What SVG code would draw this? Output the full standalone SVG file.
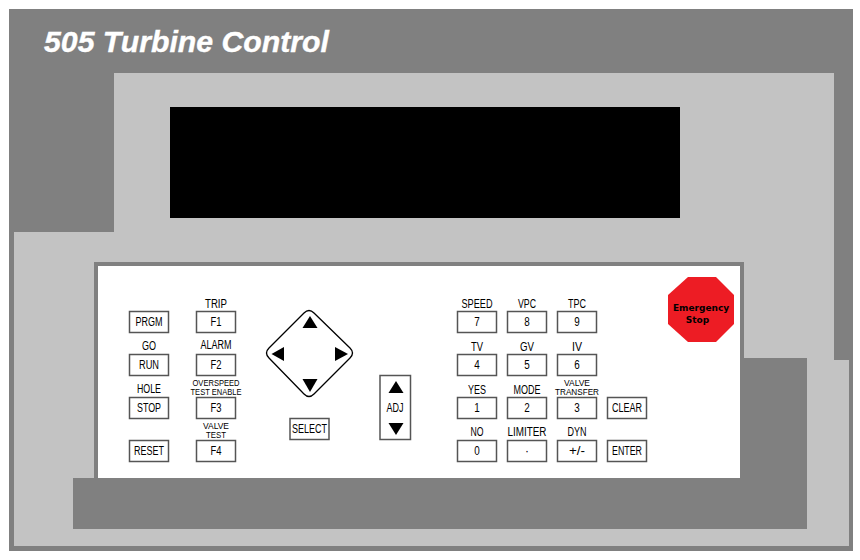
<svg xmlns="http://www.w3.org/2000/svg" width="860" height="560" viewBox="0 0 860 560">
<style>
.k{fill:#fff;stroke:#555;stroke-width:1.5}
.d{fill:#808080}
.l{fill:#c3c3c3}
text{font-family:"Liberation Sans",Arial,sans-serif;font-size:12px;fill:#000;text-anchor:middle}
.s{font-size:9px}
.a{fill:#000}
.e{font-family:"DejaVu Sans",sans-serif;font-weight:700;font-size:9px}
</style>
<rect width="860" height="560" fill="#fff"/>
<g id="housing">
<rect class="d" x="9" y="9" width="844" height="542"/>
<path class="l" d="M114 73H834V360H849V546H14V232H114Z"/>
<rect class="d" x="94" y="262" width="650" height="220"/>
<rect class="d" x="744" y="358" width="63" height="171"/>
<rect class="d" x="73" y="478" width="734" height="51"/>
<rect fill="#fff" x="98" y="266" width="642" height="212"/>
<text x="44" y="52" textLength="285" lengthAdjust="spacingAndGlyphs" style="font-weight:700;font-style:italic;font-size:30px;fill:#fff;stroke:#fff;stroke-width:.4;text-anchor:start">505 Turbine Control</text>
</g>
<g id="display"><rect x="170" y="107" width="510" height="111" fill="#000"/></g>
<g id="emergency-stop">
<polygon points="688,277 716,277 734,295 734,324 716,342 688,342 668,324 668,295" fill="#ed1c24"/>
<text class="e" x="701" y="311">Emergency</text>
<text class="e" x="697.500" y="323">Stop</text>
</g>
<g id="btn-prgm"><rect class="k" x="129.500" y="311.500" width="39" height="21"/><text x="149" y="326" textLength="27" lengthAdjust="spacingAndGlyphs">PRGM</text></g>
<g id="btn-run"><rect class="k" x="129.500" y="354.500" width="39" height="21"/><text x="149" y="350" textLength="14" lengthAdjust="spacingAndGlyphs">GO</text><text x="149" y="369" textLength="20" lengthAdjust="spacingAndGlyphs">RUN</text></g>
<g id="btn-stop"><rect class="k" x="129.500" y="397.500" width="39" height="21"/><text x="149" y="393" textLength="24" lengthAdjust="spacingAndGlyphs">HOLE</text><text x="149" y="412" textLength="24" lengthAdjust="spacingAndGlyphs">STOP</text></g>
<g id="btn-reset"><rect class="k" x="129.500" y="440.500" width="39" height="21"/><text x="149" y="455" textLength="30" lengthAdjust="spacingAndGlyphs">RESET</text></g>
<g id="btn-f1"><rect class="k" x="196.500" y="311.500" width="39" height="21"/><text x="216" y="308" textLength="22" lengthAdjust="spacingAndGlyphs">TRIP</text><text x="216" y="326" textLength="11" lengthAdjust="spacingAndGlyphs">F1</text></g>
<g id="btn-f2"><rect class="k" x="196.500" y="354.500" width="39" height="21"/><text x="216" y="349" textLength="31" lengthAdjust="spacingAndGlyphs">ALARM</text><text x="216" y="369" textLength="11" lengthAdjust="spacingAndGlyphs">F2</text></g>
<g id="btn-f3"><rect class="k" x="196.500" y="397.500" width="39" height="21"/><text class="s" x="216" y="386" textLength="47" lengthAdjust="spacingAndGlyphs">OVERSPEED</text><text class="s" x="216" y="395" textLength="51" lengthAdjust="spacingAndGlyphs">TEST ENABLE</text><text x="216" y="412" textLength="11" lengthAdjust="spacingAndGlyphs">F3</text></g>
<g id="btn-f4"><rect class="k" x="196.500" y="440.500" width="39" height="21"/><text class="s" x="216" y="429" textLength="26" lengthAdjust="spacingAndGlyphs">VALVE</text><text class="s" x="216" y="438" textLength="20" lengthAdjust="spacingAndGlyphs">TEST</text><text x="216" y="455" textLength="11" lengthAdjust="spacingAndGlyphs">F4</text></g>
<g id="dpad">
<path d="M304 313Q309 308 314 313L350 348Q355 353 350 358L314 394Q309 399 304 394L269 358Q264 353 269 348Z" fill="#fff" stroke="#000" stroke-width="1.300"/>
<polygon class="a" points="310,316 317.500,328 302.500,328"/>
<polygon class="a" points="310,392 317.500,379 302.500,379"/>
<polygon class="a" points="271.500,354 284,347 284,361"/>
<polygon class="a" points="348,354 335,347 335,361"/>
</g>
<g id="btn-select"><rect class="k" x="290" y="418.500" width="39" height="21"/><text x="309.500" y="433" textLength="35" lengthAdjust="spacingAndGlyphs">SELECT</text></g>
<g id="btn-adj"><rect class="k" x="380" y="375.500" width="30.500" height="64"/>
<polygon class="a" points="396,381 403.500,393 388.500,393"/><polygon class="a" points="396,435 403.500,423 388.500,423"/><text x="395" y="412" textLength="17" lengthAdjust="spacingAndGlyphs">ADJ</text></g>
<g id="btn-7"><rect class="k" x="457.500" y="311.500" width="39" height="21"/><text x="477" y="308" textLength="31" lengthAdjust="spacingAndGlyphs">SPEED</text><text x="477" y="326" textLength="5.500" lengthAdjust="spacingAndGlyphs">7</text></g>
<g id="btn-8"><rect class="k" x="507.500" y="311.500" width="39" height="21"/><text x="527" y="308" textLength="18" lengthAdjust="spacingAndGlyphs">VPC</text><text x="527" y="326" textLength="5.500" lengthAdjust="spacingAndGlyphs">8</text></g>
<g id="btn-9"><rect class="k" x="557.500" y="311.500" width="39" height="21"/><text x="577" y="308" textLength="18" lengthAdjust="spacingAndGlyphs">TPC</text><text x="577" y="326" textLength="5.500" lengthAdjust="spacingAndGlyphs">9</text></g>
<g id="btn-4"><rect class="k" x="457.500" y="354.500" width="39" height="21"/><text x="477" y="351" textLength="12" lengthAdjust="spacingAndGlyphs">TV</text><text x="477" y="369" textLength="5.500" lengthAdjust="spacingAndGlyphs">4</text></g>
<g id="btn-5"><rect class="k" x="507.500" y="354.500" width="39" height="21"/><text x="527" y="351" textLength="14" lengthAdjust="spacingAndGlyphs">GV</text><text x="527" y="369" textLength="5.500" lengthAdjust="spacingAndGlyphs">5</text></g>
<g id="btn-6"><rect class="k" x="557.500" y="354.500" width="39" height="21"/><text x="577" y="351" textLength="10" lengthAdjust="spacingAndGlyphs">IV</text><text x="577" y="369" textLength="5.500" lengthAdjust="spacingAndGlyphs">6</text></g>
<g id="btn-1"><rect class="k" x="457.500" y="397.500" width="39" height="21"/><text x="477" y="394" textLength="18" lengthAdjust="spacingAndGlyphs">YES</text><text x="477" y="412" textLength="5.500" lengthAdjust="spacingAndGlyphs">1</text></g>
<g id="btn-2"><rect class="k" x="507.500" y="397.500" width="39" height="21"/><text x="527" y="394" textLength="27" lengthAdjust="spacingAndGlyphs">MODE</text><text x="527" y="412" textLength="5.500" lengthAdjust="spacingAndGlyphs">2</text></g>
<g id="btn-3"><rect class="k" x="557.500" y="397.500" width="39" height="21"/><text class="s" x="577" y="386" textLength="26" lengthAdjust="spacingAndGlyphs">VALVE</text><text class="s" x="577" y="395" textLength="44" lengthAdjust="spacingAndGlyphs">TRANSFER</text><text x="577" y="412" textLength="5.500" lengthAdjust="spacingAndGlyphs">3</text></g>
<g id="btn-clear"><rect class="k" x="607.500" y="397.500" width="39" height="21"/><text x="627" y="412" textLength="30" lengthAdjust="spacingAndGlyphs">CLEAR</text></g>
<g id="btn-0"><rect class="k" x="457.500" y="440.500" width="39" height="21"/><text x="477" y="436" textLength="13" lengthAdjust="spacingAndGlyphs">NO</text><text x="477" y="455" textLength="5.500" lengthAdjust="spacingAndGlyphs">0</text></g>
<g id="btn-dot"><rect class="k" x="507.500" y="440.500" width="39" height="21"/><text x="527" y="436" textLength="39" lengthAdjust="spacingAndGlyphs">LIMITER</text><text x="527" y="455">·</text></g>
<g id="btn-dyn"><rect class="k" x="557.500" y="440.500" width="39" height="21"/><text x="577" y="436" textLength="19" lengthAdjust="spacingAndGlyphs">DYN</text><text x="577" y="455" textLength="16" lengthAdjust="spacingAndGlyphs">+/-</text></g>
<g id="btn-enter"><rect class="k" x="607.500" y="440.500" width="39" height="21"/><text x="627" y="455" textLength="30" lengthAdjust="spacingAndGlyphs">ENTER</text></g>
</svg>
